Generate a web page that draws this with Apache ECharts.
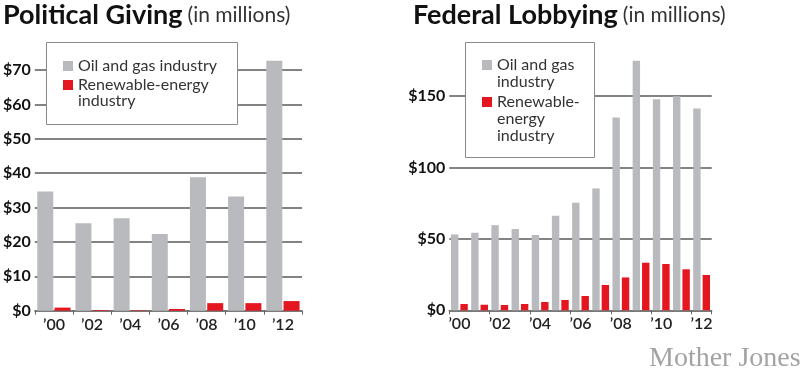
<!DOCTYPE html>
<html><head><meta charset="utf-8">
<script src="https://cdn.jsdelivr.net/npm/echarts@6/dist/echarts.min.js"></script>
<style>html,body{margin:0;padding:0;background:#fff}#c{width:800px;height:374px}</style>
</head><body><div id="c"></div>
<script>
// ---- data ----
const givingYears = ["’00","’02","’04","’06","’08","’10","’12"];
const givingOil   = [34.7, 25.4, 26.9, 22.3, 38.8, 33.2, 72.7];
const givingRenew = [0.9, 0.2, 0.15, 0.5, 2.2, 2.2, 2.8];
const lobbyYears  = ["’00","’01","’02","’03","’04","’05","’06","’07","’08","’09","’10","’11","’12"];
const lobbyOil    = [53.1, 54.3, 59.6, 56.9, 52.7, 66.2, 75.3, 85.3, 135, 174.6, 147.8, 149.9, 141.3];
const lobbyRenew  = [4.4, 3.9, 3.7, 4.4, 5.8, 7.2, 10, 17.7, 23, 33.3, 32.4, 28.7, 24.7];
const givingAxis  = {min: 0, max: 70, step: 10};
const lobbyAxis   = {min: 0, max: 150, step: 50};
const OIL = "Oil and gas industry";
const REN = "Renewable-energy industry";

const GRAY = "#b9babd", RED = "#e4161f", LINE = "#5a5a5a";
const FONT = "Lato";

function xAxis(grid, data, interval) {
  return {
    type: "category", gridIndex: grid, data: data,
    axisLine: {lineStyle: {color: "#777", width: 1.5}},
    axisTick: {show: true, length: 4, interval: interval, lineStyle: {color: "#666"}},
    axisLabel: {interval: interval, margin: 6, color: "#222", fontFamily: FONT, fontSize: 16, fontWeight: 600}
  };
}
function yAxis(grid, ax) {
  return {
    type: "value", gridIndex: grid, min: ax.min, max: ax.max, interval: ax.step,
    axisLine: {show: false}, axisTick: {show: false},
    splitLine: {lineStyle: {color: LINE, width: 1.5}},
    axisLabel: {margin: 4, color: "#111", fontFamily: FONT, fontSize: 16, fontWeight: "bold",
      formatter: v => "$" + v}
  };
}
function legendText(lh) {
  return {fontFamily: FONT, fontSize: 16, color: "#333", lineHeight: lh};
}
// leading blank lines keep the first text line level with the legend icon
function pad(lines) {
  return "\n".repeat(lines.length - 1) + lines.join("\n");
}

const chart = echarts.init(document.getElementById("c"), null, {renderer: "canvas"});
const titleRich = {
  b: {fontFamily: FONT, fontWeight: "bold", fontSize: 27, color: "#111"},
  n: {fontFamily: FONT, fontWeight: "normal", fontSize: 21, color: "#333"}
};
chart.setOption({
  animation: false,
  backgroundColor: "#fff",
  title: [
    {left: -2, top: -3, text: "{b|Political Giving} {n|(in millions)}", textStyle: {rich: titleRich}},
    {left: 408, top: -3, text: "{b|Federal Lobbying} {n|(in millions)}", textStyle: {rich: titleRich}},
    {left: 644, top: 340, text: "Mother Jones",
     textStyle: {fontFamily: "Liberation Serif", fontWeight: "normal", fontSize: 28, color: "#a3a3a3"}}
  ],
  grid: [
    {left: 33, right: 498, top: 70, bottom: 63.3},
    {left: 449.3, right: 88.3, top: 96, bottom: 63.7}
  ],
  xAxis: [xAxis(0, givingYears, 0), xAxis(1, lobbyYears, 1)],
  yAxis: [yAxis(0, givingAxis), yAxis(1, lobbyAxis)],
  graphic: [
    {type: "rect", z: 50, shape: {x: 46.5, y: 42.5, width: 191, height: 82},
     style: {fill: "#fff", stroke: "#8a8a8a", lineWidth: 1}},
    {type: "rect", z: 50, shape: {x: 465.5, y: 42.5, width: 129, height: 115},
     style: {fill: "#fff", stroke: "#8a8a8a", lineWidth: 1}}
  ],
  legend: [
    {z: 60, data: [OIL], left: 63, top: 58, icon: "rect", itemWidth: 10, itemHeight: 10, itemGap: 0, padding: 0,
     textStyle: legendText(16)},
    {z: 60, data: [REN], left: 63, top: 61, icon: "rect", itemWidth: 10, itemHeight: 10, itemGap: 0, padding: 0,
     formatter: () => pad(["Renewable-energy", "industry"]),
     textStyle: legendText(16)},
    {z: 60, data: [OIL], left: 482, top: 39.5, icon: "rect", itemWidth: 10, itemHeight: 10, itemGap: 0, padding: 0,
     formatter: () => pad(["Oil and gas", "industry"]),
     textStyle: legendText(17)},
    {z: 60, data: [REN], left: 482, top: 59.5, icon: "rect", itemWidth: 10, itemHeight: 10, itemGap: 0, padding: 0,
     formatter: () => pad(["Renewable-", "energy", "industry"]),
     textStyle: legendText(17)}
  ],
  series: [
    {name: OIL, type: "bar", xAxisIndex: 0, yAxisIndex: 0, data: givingOil, barWidth: 16, barGap: "8%",
     clip: false, itemStyle: {color: GRAY}},
    {name: REN, type: "bar", xAxisIndex: 0, yAxisIndex: 0, data: givingRenew, barWidth: 16, barGap: "8%",
     clip: false, itemStyle: {color: RED}},
    {name: OIL, type: "bar", xAxisIndex: 1, yAxisIndex: 1, data: lobbyOil, barWidth: 7.4, barGap: "27%",
     clip: false, itemStyle: {color: GRAY}},
    {name: REN, type: "bar", xAxisIndex: 1, yAxisIndex: 1, data: lobbyRenew, barWidth: 7.4, barGap: "27%",
     clip: false, itemStyle: {color: RED}}
  ]
});
</script>
</body></html>
